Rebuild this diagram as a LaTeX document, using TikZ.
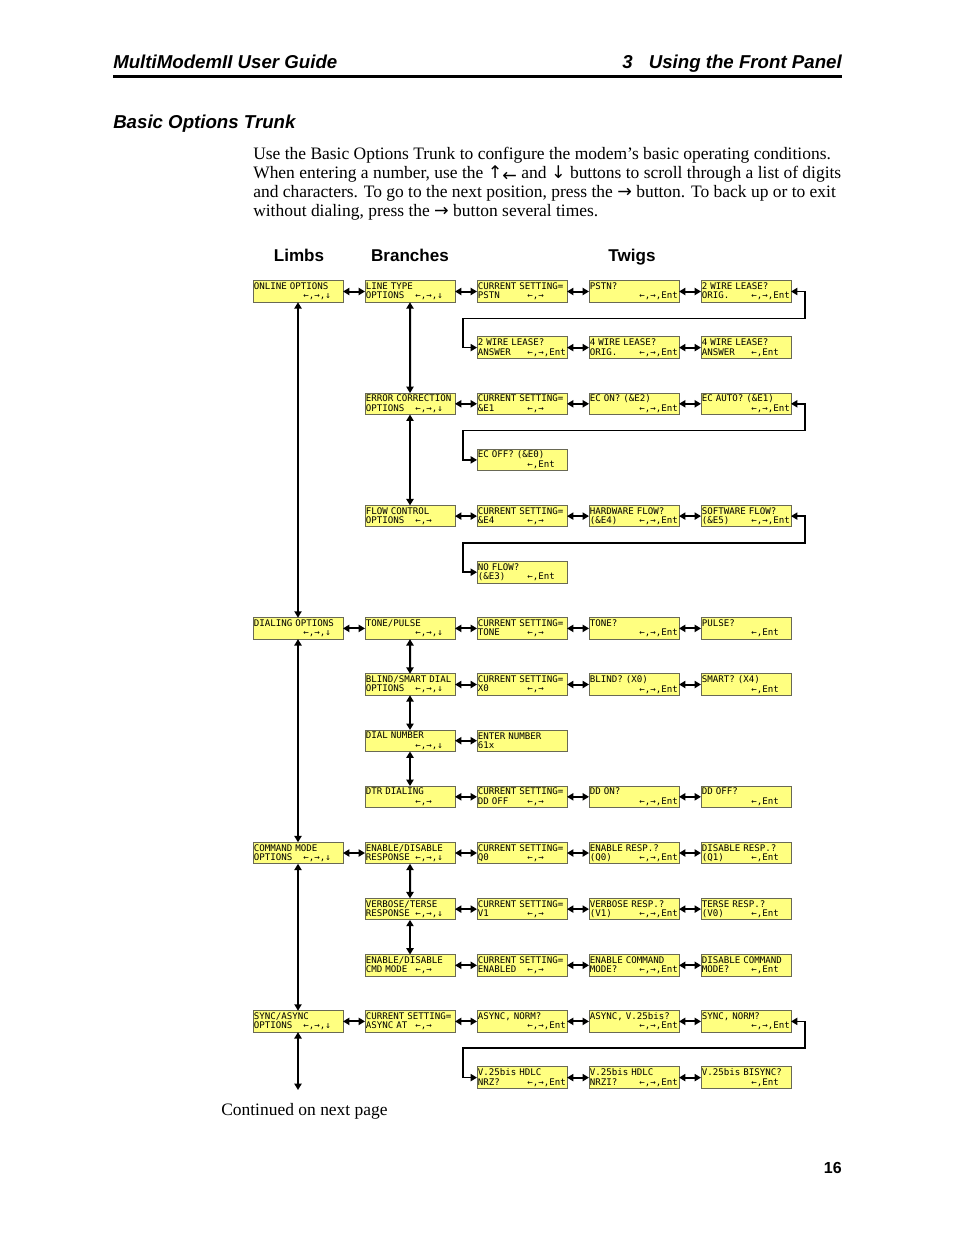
\documentclass[tikz,border=0pt]{standalone}
\usepackage{fontspec}
\setmainfont{Liberation Serif}
\setsansfont{Liberation Sans}
\newfontfamily\lcdfont{DejaVu Sans Mono}
\newfontfamily\arrfont{DejaVu Sans}
\usetikzlibrary{positioning,arrows.meta}
\definecolor{lcdbg}{RGB}{255,255,128}
\definecolor{lcdrim}{RGB}{105,105,85}
% two LCD lines, keys start at the tenth column
\newcommand\lcd[3]{#1\\\makebox[9\fontcharwd\font`0][l]{#2}#3}

\begin{document}
\begin{tikzpicture}[x=0.75pt,y=-0.75pt,node distance=26pt and 16.5pt,
  lcd/.style={draw=lcdrim,fill=lcdbg,line width=0.6pt,text width=66.2pt,inner xsep=0.65pt,inner ysep=0pt,outer sep=0pt,
    minimum height=16.1pt,align=left,font=\lcdfont\fontsize{6.85pt}{7.1pt}\selectfont},
  hop/.style={{Triangle[length=4.8pt,width=5.4pt]}-{Triangle[length=4.8pt,width=5.4pt]},line width=1.5pt},
  wrap/.style={{Triangle[length=4.8pt,width=5.4pt]}-{Triangle[length=4.8pt,width=5.4pt]},line width=1.1pt},
  head/.style={font=\sffamily\bfseries\itshape\fontsize{14pt}{16pt}\selectfont,inner sep=0pt},
  colhd/.style={font=\sffamily\bfseries\fontsize{12.8pt}{15pt}\selectfont,inner sep=0pt,anchor=base},
  body/.style={font=\fontsize{13.1pt}{14.5pt}\selectfont,inner sep=0pt,anchor=base west}]
  \useasboundingbox (0,0) rectangle (954,1235);
  % page header
  \node[head,anchor=base west] (guide) at (113,68) {MultiModemII User Guide};
  \node[head,anchor=base east] (chap) at (842,68) {3\hspace{12pt}Using the Front Panel};
  \draw[line width=2.3pt] (113,76.5) -- (842,76.5);
  \node[head,anchor=base west] (title) at (113,128) {Basic Options Trunk};
  \node[body] (p1) at (253,159) {Use the Basic Options Trunk to configure the modem’s basic operating conditions.};
  \node[body] (p2) at (253,178.3) {When entering a number, use the {\arrfont↑}\raisebox{-2.5pt}{\arrfont←} and {\arrfont↓} buttons to scroll through a list of digits};
  \node[body] (p3) at (253,197.6) {and characters. To go to the next position, press the {\arrfont→} button. To back up or to exit};
  \node[body] (p4) at (253,216.9) {without dialing, press the {\arrfont→} button several times.};
  \node[colhd] (limbs) at (299,261) {Limbs};
  \node[colhd] (branches) at (410,261) {Branches};
  \node[colhd] (twigs) at (632,261) {Twigs};

  % online options
  \node[lcd] (online) at (298,291.5) {\lcd{ONLINE OPTIONS}{}{←,→,↓}};
  \node[lcd,right=of online] (linetype) {\lcd{LINE TYPE}{OPTIONS}{←,→,↓}};
  \node[lcd,right=of linetype] (ltcur) {\lcd{CURRENT SETTING=}{PSTN}{←,→}};
  \node[lcd,right=of ltcur] (pstn) {\lcd{PSTN?}{}{←,→,Ent}};
  \node[lcd,right=of pstn] (wiretwoo) {\lcd{2 WIRE LEASE?}{ORIG.}{←,→,Ent}};
  \node[lcd] (wiretwoa) at (522,347.6) {\lcd{2 WIRE LEASE?}{ANSWER}{←,→,Ent}};
  \node[lcd,right=of wiretwoa] (wirefouro) {\lcd{4 WIRE LEASE?}{ORIG.}{←,→,Ent}};
  \node[lcd,right=of wirefouro] (wirefoura) {\lcd{4 WIRE LEASE?}{ANSWER}{←,Ent}};
  \node[lcd] (errcorr) at (410,403.8) {\lcd{ERROR CORRECTION}{OPTIONS}{←,→,↓}};
  \node[lcd,right=of errcorr] (eccur) {\lcd{CURRENT SETTING=}{\&E1}{←,→}};
  \node[lcd,right=of eccur] (econ) {\lcd{EC ON? (\&E2)}{}{←,→,Ent}};
  \node[lcd,right=of econ] (ecauto) {\lcd{EC AUTO? (\&E1)}{}{←,→,Ent}};
  \node[lcd] (ecoff) at (522,459.9) {\lcd{EC OFF? (\&E0)}{}{←,Ent}};
  \node[lcd] (flowctl) at (410,516.1) {\lcd{FLOW CONTROL}{OPTIONS}{←,→}};
  \node[lcd,right=of flowctl] (flcur) {\lcd{CURRENT SETTING=}{\&E4}{←,→}};
  \node[lcd,right=of flcur] (hwflow) {\lcd{HARDWARE FLOW?}{(\&E4)}{←,→,Ent}};
  \node[lcd,right=of hwflow] (swflow) {\lcd{SOFTWARE FLOW?}{(\&E5)}{←,→,Ent}};
  \node[lcd] (noflow) at (522,572.2) {\lcd{NO FLOW?}{(\&E3)}{←,Ent}};

  % dialing options
  \node[lcd] (dialing) at (298,628.4) {\lcd{DIALING OPTIONS}{}{←,→,↓}};
  \node[lcd,right=of dialing] (tone) {\lcd{TONE/PULSE}{}{←,→,↓}};
  \node[lcd,right=of tone] (tncur) {\lcd{CURRENT SETTING=}{TONE}{←,→}};
  \node[lcd,right=of tncur] (toneq) {\lcd{TONE?}{}{←,→,Ent}};
  \node[lcd,right=of toneq] (pulseq) {\lcd{PULSE?}{}{←,Ent}};
  \node[lcd] (blind) at (410,684.5) {\lcd{BLIND/SMART DIAL}{OPTIONS}{←,→,↓}};
  \node[lcd,right=of blind] (bscur) {\lcd{CURRENT SETTING=}{X0}{←,→}};
  \node[lcd,right=of bscur] (blindq) {\lcd{BLIND? (X0)}{}{←,→,Ent}};
  \node[lcd,right=of blindq] (smartq) {\lcd{SMART? (X4)}{}{←,Ent}};
  \node[lcd] (dialnum) at (410,740.7) {\lcd{DIAL NUMBER}{}{←,→,↓}};
  \node[lcd,right=of dialnum] (enternum) {\lcd{ENTER NUMBER}{61x}{}};
  \node[lcd] (dtr) at (410,796.8) {\lcd{DTR DIALING}{}{←,→}};
  \node[lcd,right=of dtr] (ddcur) {\lcd{CURRENT SETTING=}{DD OFF}{←,→}};
  \node[lcd,right=of ddcur] (ddon) {\lcd{DD ON?}{}{←,→,Ent}};
  \node[lcd,right=of ddon] (ddoff) {\lcd{DD OFF?}{}{←,Ent}};

  % command mode options
  \node[lcd] (command) at (298,853) {\lcd{COMMAND MODE}{OPTIONS}{←,→,↓}};
  \node[lcd,right=of command] (enresp) {\lcd{ENABLE/DISABLE}{RESPONSE}{←,→,↓}};
  \node[lcd,right=of enresp] (ercur) {\lcd{CURRENT SETTING=}{Q0}{←,→}};
  \node[lcd,right=of ercur] (enrq) {\lcd{ENABLE RESP.?}{(Q0)}{←,→,Ent}};
  \node[lcd,right=of enrq] (disrq) {\lcd{DISABLE RESP.?}{(Q1)}{←,Ent}};
  \node[lcd] (verbose) at (410,909.1) {\lcd{VERBOSE/TERSE}{RESPONSE}{←,→,↓}};
  \node[lcd,right=of verbose] (vtcur) {\lcd{CURRENT SETTING=}{V1}{←,→}};
  \node[lcd,right=of vtcur] (verbq) {\lcd{VERBOSE RESP.?}{(V1)}{←,→,Ent}};
  \node[lcd,right=of verbq] (terseq) {\lcd{TERSE RESP.?}{(V0)}{←,Ent}};
  \node[lcd] (encmd) at (410,965.3) {\lcd{ENABLE/DISABLE}{CMD MODE}{←,→}};
  \node[lcd,right=of encmd] (cmcur) {\lcd{CURRENT SETTING=}{ENABLED}{←,→}};
  \node[lcd,right=of cmcur] (encmq) {\lcd{ENABLE COMMAND}{MODE?}{←,→,Ent}};
  \node[lcd,right=of encmq] (discmq) {\lcd{DISABLE COMMAND}{MODE?}{←,Ent}};

  % sync/async options
  \node[lcd] (sync) at (298,1021.4) {\lcd{SYNC/ASYNC}{OPTIONS}{←,→,↓}};
  \node[lcd,right=of sync] (sacur) {\lcd{CURRENT SETTING=}{ASYNC AT}{←,→}};
  \node[lcd,right=of sacur] (asnorm) {\lcd{ASYNC, NORM?}{}{←,→,Ent}};
  \node[lcd,right=of asnorm] (asvbis) {\lcd{ASYNC, V.25bis?}{}{←,→,Ent}};
  \node[lcd,right=of asvbis] (synorm) {\lcd{SYNC, NORM?}{}{←,→,Ent}};
  \node[lcd] (nrz) at (522,1077.6) {\lcd{V.25bis HDLC}{NRZ?}{←,→,Ent}};
  \node[lcd,right=of nrz] (nrzi) {\lcd{V.25bis HDLC}{NRZI?}{←,→,Ent}};
  \node[lcd,right=of nrzi] (bisync) {\lcd{V.25bis BISYNC?}{}{←,Ent}};
  \coordinate (contd) at (298,1090);
  \node[body] (cont) at (221,1115) {Continued on next page};
  \node[font=\sffamily\bfseries\fontsize{12pt}{14pt}\selectfont,inner sep=0pt,anchor=base east] (pgno) at (842,1173) {16};

  % across
  \foreach \a/\b in {online/linetype,linetype/ltcur,ltcur/pstn,pstn/wiretwoo,wiretwoa/wirefouro,wirefouro/wirefoura,
    errcorr/eccur,eccur/econ,econ/ecauto,flowctl/flcur,flcur/hwflow,hwflow/swflow,
    dialing/tone,tone/tncur,tncur/toneq,toneq/pulseq,blind/bscur,bscur/blindq,blindq/smartq,
    dialnum/enternum,dtr/ddcur,ddcur/ddon,ddon/ddoff,
    command/enresp,enresp/ercur,ercur/enrq,enrq/disrq,verbose/vtcur,vtcur/verbq,verbq/terseq,
    encmd/cmcur,cmcur/encmq,encmq/discmq,
    sync/sacur,sacur/asnorm,asnorm/asvbis,asvbis/synorm,nrz/nrzi,nrzi/bisync}
    \draw[hop] (\a.east) -- (\b.west);
  % down
  \foreach \a/\b in {online/dialing,dialing/command,command/sync,linetype/errcorr,errcorr/flowctl,
    tone/blind,blind/dialnum,dialnum/dtr,enresp/verbose,verbose/encmd}
    \draw[hop] (\a.south) -- (\b.north);
  \draw[hop] (sync.south) -- (contd);
  % wrap to next line of twigs
  \foreach \a/\b in {wiretwoo/wiretwoa,ecauto/ecoff,swflow/noflow,synorm/nrz}
    \draw[wrap] (\a.east) -- ++(14,0) -- ++(0,26.8) -| ([xshift=-10.5pt]\b.west) -- (\b.west);
\end{tikzpicture}
\end{document}
